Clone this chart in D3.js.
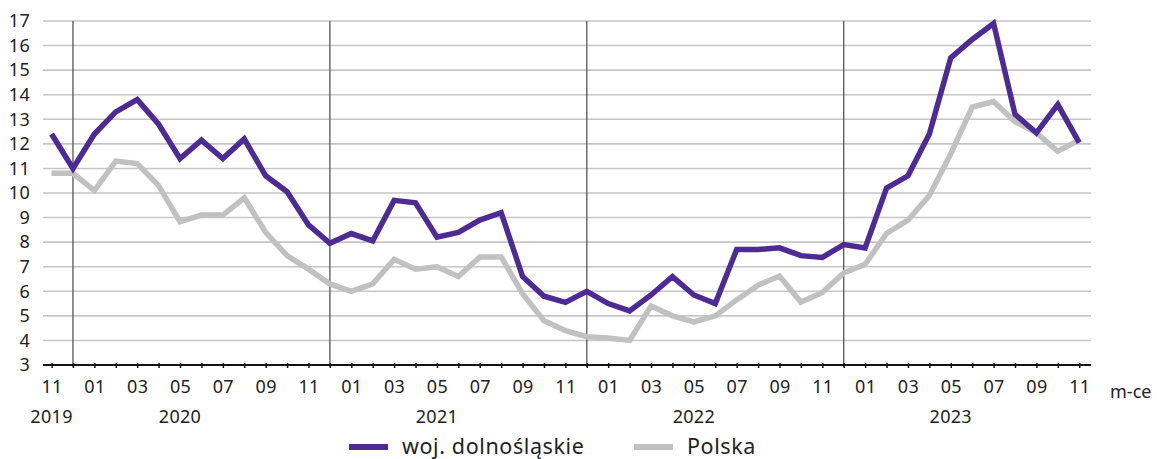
<!DOCTYPE html>
<head>
    <meta charset="utf-8">
    <title>Stopa bezrobocia - woj. dolnośląskie i Polska</title>
    <script src="https://cdn.jsdelivr.net/npm/d3@7"></script>
    <style>
        body { margin: 0; background: #fff; }
    </style>
</head>

<body>
<div id="chart"></div>

<script type="text/javascript">
    /// months from 11/2019 to 11/2023
    const months = ["11", "12",
        "01", "02", "03", "04", "05", "06", "07", "08", "09", "10", "11", "12",
        "01", "02", "03", "04", "05", "06", "07", "08", "09", "10", "11", "12",
        "01", "02", "03", "04", "05", "06", "07", "08", "09", "10", "11", "12",
        "01", "02", "03", "04", "05", "06", "07", "08", "09", "10", "11"];

    /// year labels: [month index, year]
    const yearLabels = [[0, "2019"], [6, "2020"], [18, "2021"], [30, "2022"], [42, "2023"]];
    /// december separators
    const yearBreaks = [1, 13, 25, 37];

    const dolnoslaskie = [12.4, 11.0,
        12.4, 13.3, 13.8, 12.8, 11.4, 12.15, 11.4, 12.2, 10.7, 10.05, 8.7, 7.95,
        8.35, 8.05, 9.7, 9.6, 8.2, 8.4, 8.9, 9.2, 6.6, 5.8, 5.55, 6.0,
        5.5, 5.2, 5.85, 6.6, 5.85, 5.5, 7.7, 7.7, 7.77, 7.45, 7.38, 7.9,
        7.76, 10.2, 10.7, 12.4, 15.5, 16.25, 16.9, 13.2, 12.45, 13.6, 12.05];

    const polska = [10.8, 10.8,
        10.1, 11.3, 11.2, 10.3, 8.83, 9.1, 9.1, 9.8, 8.4, 7.45, 6.9, 6.3,
        6.0, 6.3, 7.3, 6.9, 7.0, 6.6, 7.4, 7.4, 5.9, 4.8, 4.4, 4.15,
        4.1, 4.0, 5.4, 5.0, 4.75, 5.0, 5.65, 6.25, 6.62, 5.56, 5.95, 6.75,
        7.1, 8.35, 8.9, 9.9, 11.6, 13.5, 13.72, 12.9, 12.45, 11.7, 12.15];

    const yTicks = d3.range(3, 18);

    const width = 1157, height = 459;
    const font = "'Noto Sans', 'Open Sans', sans-serif";

    const svg = d3.select("#chart").append("svg")
        .attr("width", width)
        .attr("height", height)
        .style("display", "block")
        .style("font-family", font);

    const x = d3.scaleLinear()
        .domain([-0.4, months.length - 0.45])
        .range([43, 1091]);
    const y = d3.scaleLinear()
        .domain([3, 17])
        .range([365, 21]);

    /// horizontal grid
    svg.append("g")
        .selectAll("line")
        .data(yTicks.filter(d => d > 3))
        .join("line")
        .attr("x1", x.range()[0])
        .attr("x2", x.range()[1])
        .attr("y1", d => y(d))
        .attr("y2", d => y(d))
        .attr("stroke", "#c6c6c6")
        .attr("stroke-width", 1.6);

    /// year separators
    svg.append("g")
        .selectAll("line")
        .data(yearBreaks)
        .join("line")
        .attr("x1", d => x(d))
        .attr("x2", d => x(d))
        .attr("y1", y(17))
        .attr("y2", y(3) + 2)
        .attr("stroke", "#555")
        .attr("stroke-width", 1.3);

    /// y axis labels
    const yAxis = svg.append("g")
        .attr("transform", "translate(30,0)")
        .call(d3.axisLeft(y).tickValues(yTicks).tickSize(0).tickPadding(0));
    yAxis.select(".domain").remove();
    yAxis.selectAll("text")
        .style("font-family", font)
        .style("font-size", "18px")
        .style("letter-spacing", "0.3px")
        .attr("fill", "#222");

    /// x axis
    const xAxis = svg.append("g")
        .attr("transform", `translate(0,${y(3)})`)
        .call(d3.axisBottom(x)
            .tickValues(d3.range(months.length))
            .tickSize(3)
            .tickPadding(12)
            .tickFormat(i => i % 2 === 0 ? months[i] : ""));
    xAxis.select(".domain").remove();
    xAxis.selectAll(".tick line")
        .attr("y1", -2)
        .attr("stroke", "#111")
        .attr("stroke-width", 1.5);
    xAxis.selectAll("text")
        .style("font-family", font)
        .style("font-size", "18px")
        .style("letter-spacing", "0.3px")
        .attr("fill", "#222");
    xAxis.append("line")
        .attr("x1", x.range()[0])
        .attr("x2", x.range()[1])
        .attr("stroke", "#111")
        .attr("stroke-width", 2);

    /// years under month labels
    svg.append("g")
        .selectAll("text")
        .data(yearLabels)
        .join("text")
        .attr("x", d => x(d[0]))
        .attr("y", 423)
        .attr("text-anchor", "middle")
        .style("font-size", "18px")
        .style("letter-spacing", "0.3px")
        .attr("fill", "#222")
        .text(d => d[1]);

    svg.append("text")
        .attr("x", 1110)
        .attr("y", 398)
        .style("font-size", "18px")
        .attr("fill", "#222")
        .text("m-ce");

    /// lines
    const line = d3.line()
        .x((d, i) => x(i))
        .y(d => y(d));

    svg.append("path")
        .datum(polska)
        .attr("fill", "none")
        .attr("stroke", "#c1c1c1")
        .attr("stroke-width", 5.5)
        .attr("d", line);

    svg.append("path")
        .datum(dolnoslaskie)
        .attr("fill", "none")
        .attr("stroke", "#4e2a94")
        .attr("stroke-width", 5.5)
        .attr("d", line);

    /// legend
    const legend = [["woj. dolnośląskie", "#4e2a94", 349], ["Polska", "#c1c1c1", 634]];
    const lg = svg.append("g")
        .selectAll("g")
        .data(legend)
        .join("g")
        .attr("transform", d => `translate(${d[2]},447)`);
    lg.append("line")
        .attr("x1", 0)
        .attr("x2", 39)
        .attr("stroke", d => d[1])
        .attr("stroke-width", 6);
    lg.append("text")
        .attr("x", 53)
        .attr("y", 7)
        .style("font-size", "21.5px")
        .style("letter-spacing", "0.6px")
        .attr("fill", "#222")
        .text(d => d[0]);
</script>
</body>
